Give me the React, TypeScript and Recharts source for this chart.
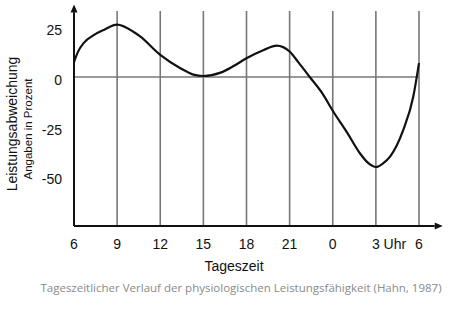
import React from 'react';
import { LineChart, Line, XAxis, YAxis, CartesianGrid, ReferenceLine } from 'recharts';

// hours since midnight, the next day continues past 24
const hours = [6, 6.3, 6.7, 7.4, 8.1, 9, 10.1, 10.6, 12, 13.4, 14.3, 15, 16.2, 17.1, 18, 19.2, 20.1, 21, 21.6, 22.4, 23.3, 24, 25, 25.9, 26.5, 27, 27.5, 28, 28.9, 29.6, 30];
const deviation = [7.5, 13, 17.3, 21.2, 23.8, 26.3, 22.9, 20.4, 11.1, 4.4, 1.2, 0.5, 2.2, 5.5, 9.4, 13.6, 15.8, 12.8, 7.5, 0, -8.5, -17, -28, -38.5, -43.5, -45.3, -43.5, -40, -26.8, -10, 7];

const xTicks = [6, 9, 12, 15, 18, 21, 24, 27, 30];
const xTickLabels = ['6', '9', '12', '15', '18', '21', '0', '3 Uhr', '6'];
const yTicks = [-50, -25, 0, 25];

const data = hours.map((h, i) => ({ h, v: deviation[i] }));

const FONT = '"Liberation Sans", Arial, sans-serif';

const XTick = (props: any) => {
  const { x, y, payload } = props;
  const label = xTickLabels[xTicks.indexOf(payload.value)];
  const isUhr = label.includes('Uhr');
  return (
    <text x={isUhr ? x - 4 : x} y={y + 19} textAnchor={isUhr ? 'start' : 'middle'} fontSize={14} fill="#111" fontFamily={FONT}>
      {label}
    </text>
  );
};

const YTick = (props: any) => {
  const { x, y, payload } = props;
  return (
    <text x={x} y={y + 8} textAnchor="end" fontSize={14} fill="#111" fontFamily={FONT}>
      {payload.value}
    </text>
  );
};

const Arrow = (props: any) => {
  const { x1, y1, x2, y2 } = props;
  const len = Math.hypot(x2 - x1, y2 - y1) || 1;
  const ux = (x2 - x1) / len;
  const uy = (y2 - y1) / len;
  const bx = x2 - ux * 8;
  const by = y2 - uy * 8;
  const px = -uy * 3.5;
  const py = ux * 3.5;
  return (
    <g>
      <line x1={x1} y1={y1} x2={bx} y2={by} stroke="#111" strokeWidth={2} />
      <polygon points={`${x2},${y2} ${bx + px},${by + py} ${bx - px},${by - py}`} fill="#111" />
    </g>
  );
};

export default function App() {
  return (
    <div style={{ position: 'absolute', left: 0, top: 0, width: 455, height: 311, background: '#fff' }}>
      <LineChart width={455} height={311} data={data} margin={{ top: 11, right: 36, bottom: 0, left: 0 }}>
        <CartesianGrid horizontal={false} stroke="#777" strokeWidth={1.6} strokeDasharray="" />
        <XAxis
          dataKey="h"
          type="number"
          domain={[6, 30]}
          ticks={xTicks}
          axisLine={false}
          tickLine={false}
          tickSize={0}
          tickMargin={4}
          tick={<XTick />}
          interval={0}
          height={85}
        />
        <YAxis
          type="number"
          domain={[-75, 33.2]}
          ticks={yTicks}
          axisLine={false}
          tickLine={false}
          tickSize={0}
          tickMargin={12}
          tick={<YTick />}
          width={74}
          interval={0}
        />
        <ReferenceLine y={0} stroke="#777" strokeWidth={1.6} />
        <ReferenceLine
          segment={[{ x: 6, y: -75 }, { x: 31.65, y: -75 }]}
          ifOverflow="visible"
          shape={<Arrow />}
        />
        <ReferenceLine
          segment={[{ x: 6, y: -75 }, { x: 6, y: 36.5 }]}
          ifOverflow="visible"
          shape={<Arrow />}
        />
        <Line
          type="monotone"
          dataKey="v"
          stroke="#111"
          strokeWidth={2.2}
          dot={false}
          isAnimationActive={false}
        />
      </LineChart>
      <svg width={455} height={311} style={{ position: 'absolute', left: 0, top: 0, pointerEvents: 'none' }}>
        <text
          transform="translate(17,124) rotate(-90)"
          textAnchor="middle"
          fontSize={14}
          fill="#111"
          fontFamily={FONT}
        >
          Leistungsabweichung
        </text>
        <text
          transform="translate(32,129) rotate(-90)"
          textAnchor="middle"
          fontSize={11.5}
          fill="#111"
          fontFamily={FONT}
        >
          Angaben in Prozent
        </text>
        <text x={234} y={271} textAnchor="middle" fontSize={14} fill="#111" fontFamily={FONT}>
          Tageszeit
        </text>
        <text x={241} y={292} textAnchor="middle" fontSize={11.5} fill="#8a8a8a" fontFamily='"Open Sans", "Noto Sans", sans-serif'>
          Tageszeitlicher Verlauf der physiologischen Leistungsfähigkeit (Hahn, 1987)
        </text>
      </svg>
    </div>
  );
}
